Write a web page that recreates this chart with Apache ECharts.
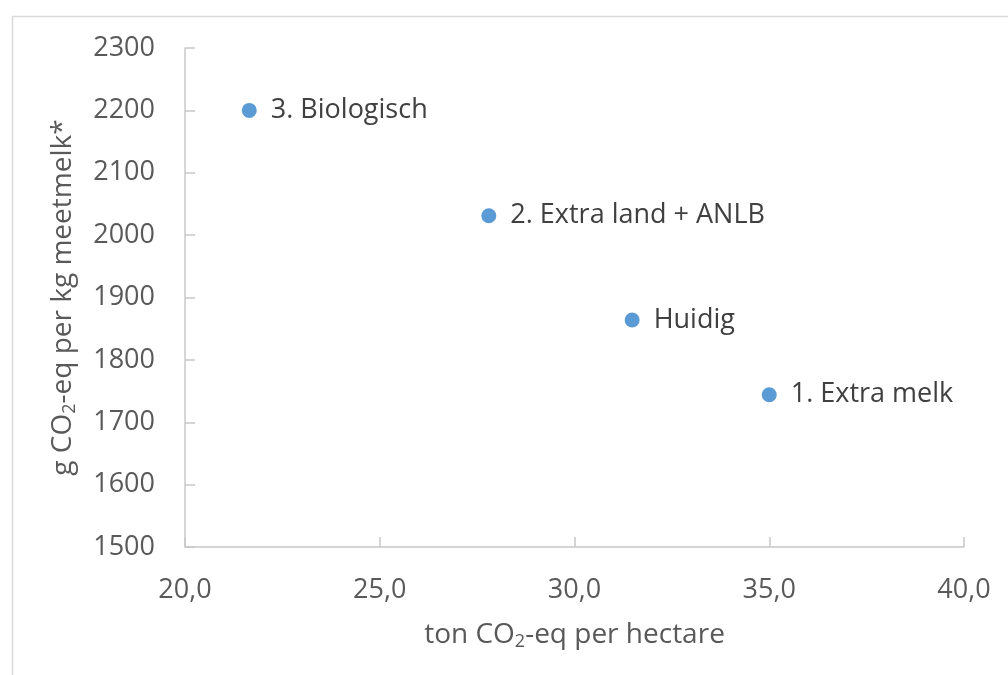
<!DOCTYPE html>
<html>
<head>
<meta charset="utf-8">
<title>CO2-eq per hectare vs per kg meetmelk</title>
<script src="https://cdn.jsdelivr.net/npm/echarts@6/dist/echarts.min.js"></script>
<style>
  html, body { margin: 0; padding: 0; background: #ffffff; }
  #chart { width: 1008px; height: 675px; }
</style>
</head>
<body>
<div id="chart"></div>
<script>
// Scenario names and their emissions
const scenarios = ['3. Biologisch', '2. Extra land + ANLB', 'Huidig', '1. Extra melk'];
const perHectare = [21.65, 27.8, 31.48, 35.0];   // ton CO2-eq per hectare
const perKgMilk = [2200, 2031, 1864, 1744];       // g CO2-eq per kg meetmelk

const xAxisRange = { min: 20, max: 40, interval: 5 };
const yAxisRange = { min: 1500, max: 2300, interval: 100 };

const FONT = '"Open Sans", "Noto Sans", sans-serif';
const AXIS_GREY = '#595959';
const LINE_GREY = '#c8c8c8';

const points = scenarios.map((name, i) => ({ name, value: [perHectare[i], perKgMilk[i]] }));

// Axis titles: regular text with a lowered, smaller "2" for CO2
const titleRich = {
  a: { fontFamily: FONT, fontSize: 28, lineHeight: 36, color: AXIS_GREY },
  s: { fontFamily: FONT, fontSize: 18, lineHeight: 18, color: AXIS_GREY, padding: [16, 0, 0, 0], verticalAlign: 'top' }
};

const chart = echarts.init(document.getElementById('chart'), null, { renderer: 'canvas' });
chart.setOption({
  animation: false,
  backgroundColor: '#ffffff',
  graphic: [{
    type: 'rect',
    left: 10, top: 14,
    shape: { width: 1020, height: 680 },
    style: { fill: 'none', stroke: '#d9d9d9', lineWidth: 1.5 },
    silent: true
  }],
  grid: { left: 185, right: 44, top: 48, bottom: 128, containLabel: false },
  xAxis: {
    type: 'value',
    min: xAxisRange.min, max: xAxisRange.max, interval: xAxisRange.interval,
    name: '{a|ton CO}{s|2}{a|-eq per hectare}',
    nameLocation: 'middle',
    nameGap: 70,
    nameTextStyle: { rich: titleRich },
    axisLine: { show: true, onZero: false, lineStyle: { color: LINE_GREY, width: 1.5 } },
    axisTick: { show: true, inside: true, length: 10, lineStyle: { color: LINE_GREY, width: 1.5 } },
    splitLine: { show: false },
    axisLabel: {
      margin: 30,
      fontFamily: FONT, fontSize: 27, color: AXIS_GREY,
      formatter: v => v.toFixed(1).replace('.', ',')
    }
  },
  yAxis: {
    type: 'value',
    min: yAxisRange.min, max: yAxisRange.max, interval: yAxisRange.interval,
    name: '{a|g CO}{s|2}{a|-eq per kg meetmelk*}',
    nameLocation: 'middle',
    nameGap: 104,
    nameTextStyle: { rich: titleRich },
    axisLine: { show: true, lineStyle: { color: LINE_GREY, width: 1.5 } },
    axisTick: { show: true, inside: true, length: 10, lineStyle: { color: LINE_GREY, width: 1.5 } },
    splitLine: { show: false },
    axisLabel: {
      margin: 30, fontFamily: FONT, fontSize: 27, color: AXIS_GREY,
      formatter: v => String(v)
    }
  },
  series: [{
    type: 'scatter',
    data: points,
    symbol: 'circle',
    symbolSize: 15,
    itemStyle: { color: '#5b9bd5', opacity: 1 },
    label: {
      show: true,
      position: 'right',
      distance: 14,
      formatter: p => p.name,
      fontFamily: FONT, fontSize: 27, color: '#404040'
    }
  }]
});
</script>
</body>
</html>
